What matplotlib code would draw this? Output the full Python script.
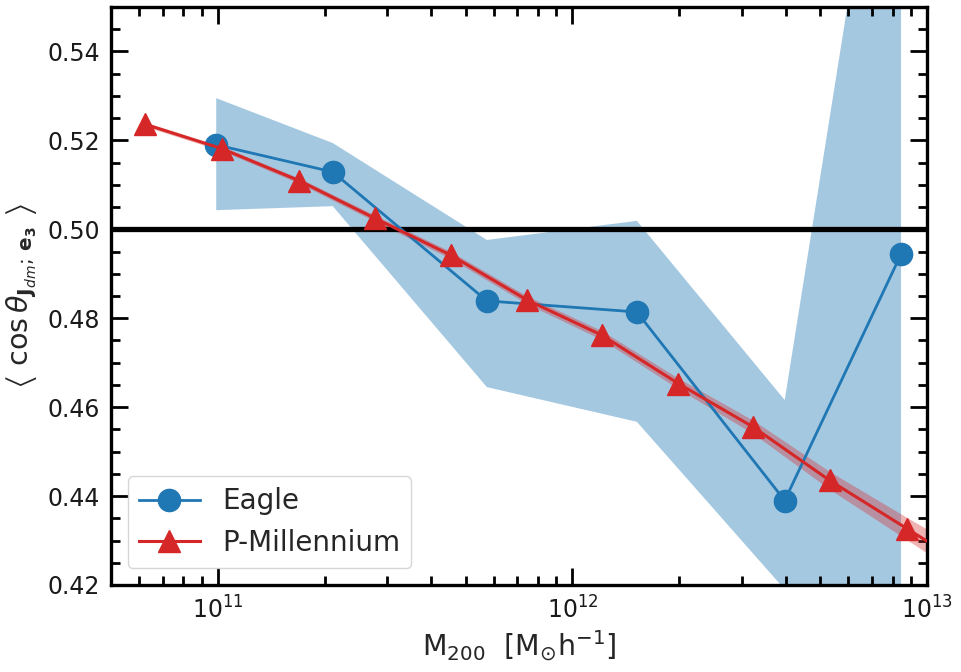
import matplotlib
matplotlib.use("Agg")
import matplotlib.pyplot as plt
from matplotlib.ticker import MultipleLocator

# Eagle haloes: mean alignment and spread
eagle_mass = [9.9e10, 2.11e11, 5.74e11, 1.52e12, 3.97e12, 8.45e12]
eagle_cos = [0.519, 0.5129, 0.4839, 0.4814, 0.4390, 0.4944]
eagle_upper = [0.5295, 0.5194, 0.4976, 0.5019, 0.4616, 0.626]
eagle_lower = [0.5043, 0.5052, 0.4645, 0.4567, 0.4190, 0.400]

# P-Millennium haloes
pm_mass = [6.25e10, 1.03e11, 1.70e11, 2.77e11, 4.54e11, 7.45e11,
           1.21e12, 1.99e12, 3.24e12, 5.32e12, 8.77e12, 1.44e13]
pm_cos = [0.5236, 0.5181, 0.5109, 0.5025, 0.4942, 0.4841,
          0.4762, 0.4653, 0.4555, 0.4435, 0.4327, 0.4220]
pm_err = [0.0005, 0.0005, 0.0006, 0.0007, 0.0008, 0.0009,
          0.0010, 0.0012, 0.0015, 0.0020, 0.0025, 0.0032]

y_ticks = [0.42, 0.44, 0.46, 0.48, 0.50, 0.52, 0.54]

plt.rcParams["text.color"] = "0.15"
plt.rcParams["axes.labelcolor"] = "0.15"


def main():
    fig = plt.figure(figsize=(9.62, 6.72), dpi=100)
    ax = fig.add_axes([0.1154, 0.1295, 0.8482, 0.8601])

    ax.fill_between(eagle_mass, eagle_lower, eagle_upper, color="C0",
                    alpha=0.4, lw=0, zorder=1)
    pm_lo = [c - e for c, e in zip(pm_cos, pm_err)]
    pm_hi = [c + e for c, e in zip(pm_cos, pm_err)]
    ax.fill_between(pm_mass, pm_lo, pm_hi, color="C3", alpha=0.35,
                    lw=0, zorder=2)

    ax.axhline(0.5, color="black", lw=3.8, zorder=3)

    ax.plot(eagle_mass, eagle_cos, "-o", color="C0", lw=2, ms=16,
            label="Eagle", zorder=4)
    ax.plot(pm_mass, pm_cos, "-^", color="C3", lw=2.2, ms=16,
            label="P-Millennium", zorder=5)

    ax.set_xscale("log")
    ax.set_xlim(5e10, 1e13)
    ax.set_ylim(0.42, 0.55)
    ax.set_yticks(y_ticks)
    ax.yaxis.set_minor_locator(MultipleLocator(0.005))

    ax.tick_params(which="both", direction="in", top=True, right=True,
                   labelsize=17, pad=8, labelcolor="0.1")
    ax.tick_params(which="major", length=12, width=2)
    ax.tick_params(which="minor", length=6.5, width=2)
    for s in ax.spines.values():
        s.set_linewidth(2.4)

    ax.set_xlabel(r"M$_{200}$  [M$_{\odot}$h$^{-1}$]", fontsize=20.5)
    ax.set_ylabel(r"$\left\langle\ \cos\theta_{\mathbf{J}_{dm};\,\mathbf{e_3}}\ \right\rangle$",
                  fontsize=20.5, labelpad=6)

    ax.legend(loc="lower left", fontsize=20, handlelength=2.2,
              borderaxespad=0.6)

    fig.savefig("out.png", dpi=100)
    plt.close(fig)


if __name__ == "__main__":
    main()
